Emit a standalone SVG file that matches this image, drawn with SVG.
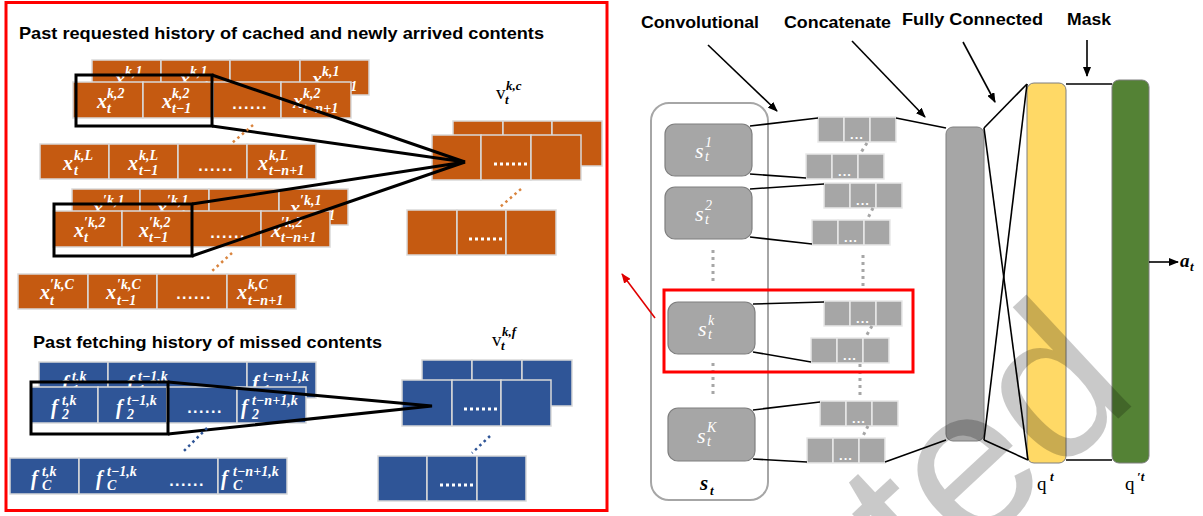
<svg xmlns="http://www.w3.org/2000/svg" width="1203" height="516" viewBox="0 0 1203 516">
<defs>
<style>
.hd{font-family:"Liberation Sans",Arial,sans-serif;font-weight:bold;font-size:17px;fill:#000}
.m{font-family:"Liberation Serif","Times New Roman",serif;font-style:italic;font-weight:bold;fill:#fff;font-size:20px}
.sc{font-family:"Liberation Serif","Times New Roman",serif;font-style:italic;font-weight:bold;fill:#fff;font-size:14px}
.sm{font-family:"Liberation Serif","Times New Roman",serif;font-style:italic;fill:#fff;font-size:22px}
.ss{font-family:"Liberation Serif","Times New Roman",serif;font-style:italic;fill:#fff;font-size:14px}
.dt{font-family:"Liberation Sans",Arial,sans-serif;font-weight:bold;fill:#fff;font-size:16px;text-anchor:middle;letter-spacing:1.5px}
.or{fill:#c55a11;stroke:#d9d9d9;stroke-width:1.5}
.bl{fill:#2f5597;stroke:#d9d9d9;stroke-width:1.5}
.gc{fill:#a6a6a6;stroke:#e8e8e8;stroke-width:1.5}
.sb{fill:#a6a6a6;stroke:#7f7f7f;stroke-width:1.2}
.bx{fill:none;stroke:#000;stroke-width:3}
.ln{fill:none;stroke:#000;stroke-width:1.6}
.thk{fill:none;stroke:#000;stroke-width:3}
.gd{fill:none;stroke:#a6a6a6;stroke-width:3;stroke-dasharray:3 4}
.od{fill:none;stroke:#d9843e;stroke-width:2.5;stroke-dasharray:2.5 3.5}
.bd{fill:none;stroke:#2f5597;stroke-width:2.5;stroke-dasharray:2.5 3.5}
.wd{fill:none;stroke:#fff;stroke-width:3;stroke-dasharray:3 3}
.gsd{font-family:"Liberation Sans",Arial,sans-serif;font-weight:bold;fill:#fff;font-size:13px;text-anchor:middle;letter-spacing:1px}
.lbl{font-family:"Liberation Serif","Times New Roman",serif;fill:#000;font-size:19px}
.lbs{font-family:"Liberation Serif","Times New Roman",serif;font-style:italic;font-weight:bold;fill:#000;font-size:13px}
</style>
<marker id="ah" markerWidth="10" markerHeight="8" refX="9" refY="4" orient="auto" markerUnits="userSpaceOnUse">
<path d="M0,0 L10,4 L0,8 z" fill="#000"/>
</marker>
<marker id="ahr" markerWidth="10" markerHeight="8" refX="9" refY="4" orient="auto" markerUnits="userSpaceOnUse">
<path d="M0,0 L10,4 L0,8 z" fill="#e00000"/>
</marker>
</defs>
<rect width="1203" height="516" fill="#fff"/>

<!-- LEFT PANEL -->
<g id="left-panel">
<rect x="6" y="2.5" width="601" height="508" fill="none" stroke="#ff0000" stroke-width="3"/>
<text class="hd" x="19" y="39" textLength="525" lengthAdjust="spacingAndGlyphs">Past requested history of cached and newly arrived contents</text>
<text class="hd" x="33" y="348" textLength="349" lengthAdjust="spacingAndGlyphs">Past fetching history of missed contents</text>
</g>

<g id="row-k1">
<rect class="or" x="92" y="60" width="69" height="35"/><rect class="or" x="161" y="60" width="69" height="35"/><rect class="or" x="230" y="60" width="70" height="35"/><rect class="or" x="300" y="60" width="69" height="35"/>
<text class="m" x="115" y="86">x</text><text class="sc" x="125" y="76">k,1</text><text class="sc" x="125" y="91">t</text>
<text class="m" x="180" y="86">x</text><text class="sc" x="190" y="76">k,1</text><text class="sc" x="190" y="91">t−1</text>
<text class="m" x="312" y="86">x</text><text class="sc" x="322" y="76">k,1</text><text class="sc" x="322" y="91">t−n+1</text>
</g>
<g id="row-k2">
<rect class="or" x="73" y="82" width="70" height="36"/><rect class="or" x="143" y="82" width="70" height="36"/><rect class="or" x="213" y="82" width="68" height="36"/><rect class="or" x="281" y="82" width="70" height="36"/>
<text class="m" x="97" y="108">x</text><text class="sc" x="107" y="98">k,2</text><text class="sc" x="107" y="113">t</text>
<text class="m" x="162" y="108">x</text><text class="sc" x="172" y="98">k,2</text><text class="sc" x="172" y="113">t−1</text>
<text class="dt" x="250" y="109">......</text>
<text class="m" x="293" y="108">x</text><text class="sc" x="303" y="98">k,2</text><text class="sc" x="303" y="113">t−n+1</text>
</g>
<g id="row-kL">
<rect class="or" x="40" y="144" width="69" height="35"/><rect class="or" x="109" y="144" width="69" height="35"/><rect class="or" x="178" y="144" width="69" height="35"/><rect class="or" x="247" y="144" width="69" height="35"/>
<text class="m" x="63" y="170">x</text><text class="sc" x="74" y="160">k,L</text><text class="sc" x="74" y="175">t</text>
<text class="m" x="128" y="170">x</text><text class="sc" x="139" y="160">k,L</text><text class="sc" x="139" y="175">t−1</text>
<text class="dt" x="216" y="171">......</text>
<text class="m" x="258" y="170">x</text><text class="sc" x="269" y="160">k,L</text><text class="sc" x="269" y="175">t−n+1</text>
</g>
<g id="row-pk1">
<rect class="or" x="72" y="189" width="68" height="36"/><rect class="or" x="140" y="189" width="69" height="36"/><rect class="or" x="209" y="189" width="70" height="36"/><rect class="or" x="279" y="189" width="69" height="36"/>
<text class="m" x="93" y="215">x</text><text class="sc" x="103" y="205">′k,1</text><text class="sc" x="103" y="220">t</text>
<text class="m" x="157" y="215">x</text><text class="sc" x="167" y="205">′k,1</text><text class="sc" x="167" y="220">t−1</text>
<text class="m" x="290" y="215">x</text><text class="sc" x="300" y="205">′k,1</text><text class="sc" x="300" y="220">t−n+1</text>
</g>
<g id="row-pk2">
<rect class="or" x="53" y="211" width="69" height="36"/><rect class="or" x="122" y="211" width="70" height="36"/><rect class="or" x="192" y="211" width="69" height="36"/><rect class="or" x="261" y="211" width="69" height="36"/>
<text class="m" x="74" y="237">x</text><text class="sc" x="84" y="227">′k,2</text><text class="sc" x="84" y="242">t</text>
<text class="m" x="139" y="237">x</text><text class="sc" x="149" y="227">′k,2</text><text class="sc" x="149" y="242">t−1</text>
<text class="dt" x="228" y="238">......</text>
<text class="m" x="271" y="237">x</text><text class="sc" x="281" y="227">′k,2</text><text class="sc" x="281" y="242">t−n+1</text>
</g>
<g id="row-pkC">
<rect class="or" x="18" y="274" width="70" height="35"/><rect class="or" x="88" y="274" width="69" height="35"/><rect class="or" x="157" y="274" width="70" height="35"/><rect class="or" x="227" y="274" width="69" height="35"/>
<text class="m" x="40" y="299">x</text><text class="sc" x="50" y="289">′k,C</text><text class="sc" x="50" y="305">t</text>
<text class="m" x="106" y="299">x</text><text class="sc" x="117" y="289">′k,C</text><text class="sc" x="117" y="305">t−1</text>
<text class="dt" x="194" y="299">......</text>
<text class="m" x="237" y="299">x</text><text class="sc" x="248" y="289">k,C</text><text class="sc" x="248" y="305">t−n+1</text>
</g>

<g id="row-f1">
<rect class="bl" x="39" y="362" width="69" height="36"/><rect class="bl" x="108" y="362" width="139" height="36"/><rect class="bl" x="247" y="362" width="69" height="36"/>
<text class="m" x="62" y="390">f</text><text class="sc" x="72" y="381">t,k</text><text class="sc" x="72" y="395">1</text>
<text class="m" x="127" y="390">f</text><text class="sc" x="138" y="381">t−1,k</text><text class="sc" x="138" y="395">1</text>
<text class="m" x="252" y="390">f</text><text class="sc" x="263" y="381">t−n+1,k</text><text class="sc" x="263" y="395">1</text>
</g>
<g id="row-f2">
<rect class="bl" x="31" y="387" width="67" height="36"/><rect class="bl" x="98" y="387" width="69" height="36"/><rect class="bl" x="167" y="387" width="70" height="36"/><rect class="bl" x="237" y="387" width="69" height="36"/>
<text class="m" x="51" y="414">f</text><text class="sc" x="62" y="405">t,k</text><text class="sc" x="62" y="419">2</text>
<text class="m" x="116" y="414">f</text><text class="sc" x="127" y="405">t−1,k</text><text class="sc" x="127" y="419">2</text>
<text class="dt" x="205" y="413">......</text>
<text class="m" x="241" y="414">f</text><text class="sc" x="252" y="405">t−n+1,k</text><text class="sc" x="252" y="419">2</text>
</g>
<g id="row-fC">
<rect class="bl" x="10" y="458" width="69" height="36"/><rect class="bl" x="79" y="458" width="139" height="36"/><rect class="bl" x="218" y="458" width="69" height="36"/>
<text class="m" x="31" y="485">f</text><text class="sc" x="42" y="476">t,k</text><text class="sc" x="42" y="490">C</text>
<text class="m" x="96" y="485">f</text><text class="sc" x="107" y="476">t−1,k</text><text class="sc" x="107" y="490">C</text>
<text class="dt" x="187" y="486">......</text>
<text class="m" x="221" y="485">f</text><text class="sc" x="233" y="476">t−n+1,k</text><text class="sc" x="233" y="490">C</text>
</g>

<g id="stack-vkc">
<rect class="or" x="453" y="121" width="50" height="45"/><rect class="or" x="503" y="121" width="49" height="45"/><rect class="or" x="552" y="121" width="50" height="45"/>
<rect class="or" x="432" y="135" width="49" height="45"/><rect class="or" x="481" y="135" width="50" height="45"/><rect class="or" x="531" y="135" width="50" height="45"/>
<line class="wd" x1="494" y1="164" x2="527" y2="164"/>
<text class="lbl" x="496" y="99">v</text><text class="lbs" x="506" y="90">k,c</text><text class="lbs" x="505" y="104">t</text>
</g>
<g id="stack-vkc-low">
<rect class="or" x="407" y="210" width="50" height="45"/><rect class="or" x="457" y="210" width="49" height="45"/><rect class="or" x="506" y="210" width="50" height="45"/>
<line class="wd" x1="469" y1="239" x2="503" y2="239"/>
</g>
<g id="stack-vkf">
<rect class="bl" x="422" y="360" width="50" height="46"/><rect class="bl" x="472" y="360" width="50" height="46"/><rect class="bl" x="522" y="360" width="50" height="46"/>
<rect class="bl" x="402" y="380" width="50" height="46"/><rect class="bl" x="452" y="380" width="49" height="46"/><rect class="bl" x="501" y="380" width="50" height="46"/>
<line class="wd" x1="464" y1="409" x2="498" y2="409"/>
<text class="lbl" x="492" y="346">v</text><text class="lbs" x="502" y="336">k,f</text><text class="lbs" x="501" y="350">t</text>
</g>
<g id="stack-vkf-low">
<rect class="bl" x="378" y="456" width="49" height="45"/><rect class="bl" x="427" y="456" width="50" height="45"/><rect class="bl" x="477" y="456" width="49" height="45"/>
<line class="wd" x1="440" y1="485" x2="473" y2="485"/>
</g>

<g id="left-connectors">
<rect class="bx" x="76" y="75" width="136" height="51"/>
<rect class="bx" x="54" y="204" width="138" height="52"/>
<rect class="bx" x="31" y="382" width="137" height="52"/>
<polyline class="thk" points="212,75 465,162 212,126"/>
<polyline class="thk" points="192,204 465,162 192,256"/>
<polyline class="thk" points="168,382 432,406 168,434"/>
<line class="od" x1="253" y1="125" x2="232" y2="143"/>
<line class="od" x1="232" y1="253" x2="212" y2="271"/>
<line class="od" x1="521" y1="189" x2="500" y2="207"/>
<line class="bd" x1="207" y1="428" x2="183" y2="452"/>
<line class="bd" x1="490" y1="436" x2="472" y2="453"/>
</g>

<!-- RIGHT PANEL -->
<g id="headers">
<text class="hd" x="641" y="28" textLength="118" lengthAdjust="spacingAndGlyphs">Convolutional</text>
<text class="hd" x="784" y="28" textLength="107" lengthAdjust="spacingAndGlyphs">Concatenate</text>
<text class="hd" x="902" y="25" textLength="141" lengthAdjust="spacingAndGlyphs">Fully Connected</text>
<text class="hd" x="1067" y="25" textLength="44" lengthAdjust="spacingAndGlyphs">Mask</text>
</g>

<g id="state-container">
<rect x="651" y="103" width="117" height="397" rx="18" fill="none" stroke="#a6a6a6" stroke-width="2"/>
<text x="700" y="490" font-family="Liberation Serif,serif" font-style="italic" font-weight="bold" font-size="21">s</text>
<text class="lbs" x="710" y="495">t</text>
</g>
<g id="s1">
<rect class="sb" x="665" y="124" width="87" height="52" rx="10"/>
<text class="sm" x="695" y="158">s</text><text class="ss" x="705" y="147">1</text><text class="ss" x="705" y="161">t</text>
</g>
<g id="s2">
<rect class="sb" x="665" y="187" width="87" height="52" rx="10"/>
<text class="sm" x="695" y="221">s</text><text class="ss" x="705" y="210">2</text><text class="ss" x="705" y="224">t</text>
</g>
<g id="sk">
<rect class="sb" x="668" y="302" width="87" height="52" rx="10"/>
<text class="sm" x="698" y="336">s</text><text class="ss" x="708" y="325">k</text><text class="ss" x="708" y="339">t</text>
</g>
<g id="sK">
<rect class="sb" x="668" y="408" width="87" height="53" rx="10"/>
<text class="sm" x="697" y="443">s</text><text class="ss" x="707" y="432">K</text><text class="ss" x="707" y="446">t</text>
</g>

<g id="bars">
<g id="bar11"><rect class="gc" x="818" y="117" width="26" height="25"/><rect class="gc" x="844" y="117" width="26" height="25"/><rect class="gc" x="870" y="117" width="26" height="25"/><text class="gsd" x="857" y="139">...</text></g>
<g id="bar12"><rect class="gc" x="806" y="154" width="26" height="25"/><rect class="gc" x="832" y="154" width="26" height="25"/><rect class="gc" x="858" y="154" width="26" height="25"/><text class="gsd" x="845" y="176">...</text></g>
<g id="bar21"><rect class="gc" x="824" y="183" width="26" height="25"/><rect class="gc" x="850" y="183" width="26" height="25"/><rect class="gc" x="876" y="183" width="26" height="25"/><text class="gsd" x="863" y="205">...</text></g>
<g id="bar22"><rect class="gc" x="812" y="220" width="26" height="25"/><rect class="gc" x="838" y="220" width="26" height="25"/><rect class="gc" x="864" y="220" width="26" height="25"/><text class="gsd" x="851" y="242">...</text></g>
<g id="bark1"><rect class="gc" x="824" y="301" width="26" height="25"/><rect class="gc" x="850" y="301" width="26" height="25"/><rect class="gc" x="876" y="301" width="26" height="25"/><text class="gsd" x="863" y="323">...</text></g>
<g id="bark2"><rect class="gc" x="811" y="338" width="26" height="25"/><rect class="gc" x="837" y="338" width="26" height="25"/><rect class="gc" x="863" y="338" width="26" height="25"/><text class="gsd" x="850" y="360">...</text></g>
<g id="barK1"><rect class="gc" x="820" y="401" width="26" height="25"/><rect class="gc" x="846" y="401" width="26" height="25"/><rect class="gc" x="872" y="401" width="26" height="25"/><text class="gsd" x="859" y="423">...</text></g>
<g id="barK2"><rect class="gc" x="807" y="438" width="26" height="25"/><rect class="gc" x="833" y="438" width="26" height="25"/><rect class="gc" x="859" y="438" width="26" height="25"/><text class="gsd" x="846" y="460">...</text></g>
</g>

<g id="concat-layer"><rect x="946" y="127" width="38" height="314" rx="7" fill="#a6a6a6" stroke="#7f7f7f" stroke-width="1"/></g>
<g id="q-layer"><rect x="1027" y="83" width="39" height="380" rx="7" fill="#ffd966" stroke="#7f7f7f" stroke-width="1"/>
<text class="lbl" x="1037" y="490">q</text><text class="lbs" x="1050" y="481" font-weight="normal">t</text></g>
<g id="qp-layer"><rect x="1112" y="80" width="37" height="383" rx="7" fill="#548235" stroke="#7f7f7f" stroke-width="1"/>
<text class="lbl" x="1125" y="490">q</text><text class="lbs" x="1137" y="481" font-weight="normal">′t</text></g>

<g id="connectors">
<line class="ln" x1="708" y1="45" x2="777" y2="111" marker-end="url(#ah)"/>
<line class="ln" x1="852" y1="41" x2="925" y2="117" marker-end="url(#ah)"/>
<line class="ln" x1="963" y1="42" x2="995" y2="102" marker-end="url(#ah)"/>
<line class="ln" x1="1087" y1="40" x2="1087" y2="76" marker-end="url(#ah)"/>
<line class="ln" x1="1149" y1="262" x2="1178" y2="262" marker-end="url(#ah)"/>
<line x1="655" y1="318" x2="622" y2="274" stroke="#e00000" stroke-width="1.5" marker-end="url(#ahr)"/>
<line class="ln" x1="750" y1="126" x2="818" y2="118"/>
<line class="ln" x1="750" y1="174" x2="806" y2="178"/>
<line class="ln" x1="750" y1="189" x2="824" y2="184"/>
<line class="ln" x1="750" y1="237" x2="812" y2="244"/>
<line class="ln" x1="753" y1="304" x2="824" y2="302"/>
<line class="ln" x1="753" y1="352" x2="811" y2="362"/>
<line class="ln" x1="753" y1="410" x2="820" y2="402"/>
<line class="ln" x1="753" y1="459" x2="807" y2="462"/>
<line class="ln" x1="896" y1="118" x2="946" y2="128"/>
<line class="ln" x1="885" y1="462" x2="946" y2="440"/>
<line class="ln" x1="984" y1="128" x2="1027" y2="84"/>
<line class="ln" x1="984" y1="128" x2="1028" y2="460"/>
<line class="ln" x1="984" y1="440" x2="1027" y2="84"/>
<line class="ln" x1="984" y1="440" x2="1028" y2="460"/>
<line class="ln" x1="1066" y1="84" x2="1112" y2="84"/>
<line class="ln" x1="1066" y1="460" x2="1112" y2="460"/>
<line class="gd" x1="713" y1="250" x2="713" y2="284"/>
<line class="gd" x1="713" y1="363" x2="713" y2="398"/>
<line class="gd" x1="863" y1="255" x2="863" y2="289"/>
<line class="gd" x1="860" y1="364" x2="860" y2="398"/>
<line class="gd" x1="867" y1="143" x2="860" y2="154"/>
<line class="gd" x1="873" y1="208" x2="867" y2="220"/>
<line class="gd" x1="872" y1="326" x2="865" y2="338"/>
<line class="gd" x1="868" y1="426" x2="862" y2="438"/>
<text x="1180" y="267" font-family="Liberation Serif,serif" font-style="italic" font-weight="bold" font-size="19">a</text>
<text class="lbs" x="1190" y="271">t</text>
</g>

<g id="highlight">
<rect x="664" y="290" width="249" height="82" fill="none" stroke="#ff0000" stroke-width="3"/>
</g>

<g id="watermark">
<text x="926" y="598" transform="rotate(-43 926 598)" font-family="Liberation Sans,Arial,sans-serif" font-size="212" fill="#000" fill-opacity="0.21">ted</text>
</g>
</svg>
